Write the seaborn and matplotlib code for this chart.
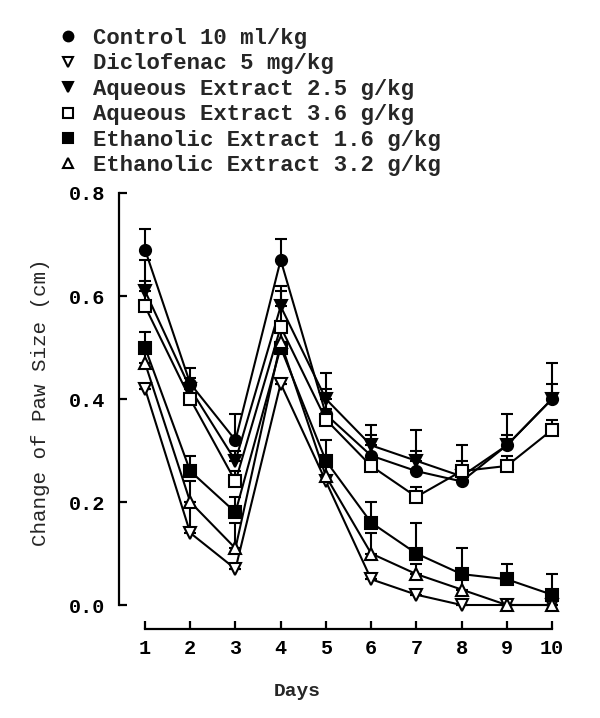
import numpy as np
import pandas as pd
import seaborn as sns
import matplotlib
matplotlib.use("Agg")
import matplotlib.pyplot as plt
from matplotlib.lines import Line2D

days = [1, 2, 3, 4, 5, 6, 7, 8, 9, 10]

control = [0.69, 0.43, 0.32, 0.67, 0.37, 0.29, 0.26, 0.24, 0.31, 0.40]
control_err = [0.04, 0.03, 0.05, 0.04, 0.08, 0.06, 0.08, 0.07, 0.06, 0.07]

diclofenac = [0.42, 0.14, 0.07, 0.43, 0.24, 0.05, 0.02, 0.00, 0.00, 0.00]
diclofenac_err = [0.00, 0.06, 0.00, 0.00, 0.00, 0.00, 0.00, 0.00, 0.00, 0.00]

aq25 = [0.61, 0.42, 0.28, 0.58, 0.40, 0.31, 0.28, 0.25, 0.31, 0.40]
aq25_err = [0.06, 0.02, 0.02, 0.04, 0.02, 0.02, 0.02, 0.02, 0.02, 0.03]

aq36 = [0.58, 0.40, 0.24, 0.54, 0.36, 0.27, 0.21, 0.26, 0.27, 0.34]
aq36_err = [0.05, 0.02, 0.02, 0.07, 0.02, 0.02, 0.02, 0.02, 0.02, 0.02]

eth16 = [0.50, 0.26, 0.18, 0.50, 0.28, 0.16, 0.10, 0.06, 0.05, 0.02]
eth16_err = [0.03, 0.03, 0.03, 0.03, 0.04, 0.04, 0.06, 0.05, 0.03, 0.04]

eth32 = [0.47, 0.20, 0.11, 0.51, 0.25, 0.10, 0.06, 0.03, 0.00, 0.00]
eth32_err = [0.02, 0.04, 0.05, 0.02, 0.02, 0.04, 0.02, 0.02, 0.00, 0.00]

labels = ["Control 10 ml/kg", "Diclofenac 5 mg/kg", "Aqueous Extract 2.5 g/kg",
          "Aqueous Extract 3.6 g/kg", "Ethanolic Extract 1.6 g/kg",
          "Ethanolic Extract 3.2 g/kg"]
y_ticks = [0.0, 0.2, 0.4, 0.6, 0.8]
y_ticklabels = ["0.0", "0.2", "0.4", "0.6", "0.8"]

series = [
    (labels[0], control, control_err, "o", "black"),
    (labels[1], diclofenac, diclofenac_err, "v", "white"),
    (labels[2], aq25, aq25_err, "v", "black"),
    (labels[3], aq36, aq36_err, "s", "white"),
    (labels[4], eth16, eth16_err, "s", "black"),
    (labels[5], eth32, eth32_err, "^", "white"),
]

sns.set_theme(style="ticks")
plt.rcParams["font.family"] = ["Liberation Mono", "DejaVu Sans"]

fig = plt.figure(figsize=(6, 7.18), dpi=100)
ax = fig.add_axes([119/600, 1-629/718, (565.6-119)/600, (629-193)/718])

handles = []
for name, vals, err, marker, face in series:
    ax.errorbar(days, vals, yerr=[np.zeros(len(err)), err], fmt="none",
                ecolor="black", elinewidth=1.5, capsize=4.5, capthick=1.5,
                zorder=2, clip_on=False)
    df = pd.DataFrame({"Days": days, "Change": vals})
    sns.lineplot(data=df, x="Days", y="Change", ax=ax, color="black",
                 linewidth=1.5, marker=marker, markersize=8,
                 markerfacecolor=face, markeredgecolor="black",
                 markeredgewidth=1.5, legend=False, errorbar=None,
                 zorder=3, clip_on=False)
    handles.append(Line2D([], [], linestyle="none", marker=marker, markersize=7,
                          markerfacecolor=face, markeredgecolor="black",
                          markeredgewidth=1.5))

ax.set_xlim(0.425, 10.3)
ax.set_ylim(-0.0466, 0.8)
for s in ["top", "right"]:
    ax.spines[s].set_visible(False)
ax.spines["left"].set_bounds(0, 0.8)
ax.spines["bottom"].set_bounds(1, 10)
for s in ["left", "bottom"]:
    ax.spines[s].set_linewidth(1.6)
    ax.spines[s].set_color("black")

ax.set_yticks(y_ticks)
ax.set_yticklabels(y_ticklabels)
ax.set_xticks(days)
ax.set_xticklabels([str(d) for d in days])
ax.tick_params(axis="both", direction="in", length=6, width=1.6, colors="black",
               labelsize=14.5)
ax.tick_params(axis="y", pad=10)
ax.tick_params(axis="x", pad=7)
for t in ax.get_xticklabels() + ax.get_yticklabels():
    t.set_fontweight("bold")

ax.set_xlabel("Days", fontsize=14, fontweight="bold")
ax.set_ylabel("Change of Paw Size (cm)", fontsize=15)
ax.xaxis.set_label_coords(0.399, -0.125)
ax.yaxis.set_label_coords(-0.155, 0.52)

fig.legend(handles, labels, loc="upper left", bbox_to_anchor=(0.099, 0.961),
           frameon=False, prop={"weight": "bold", "size": 16},
           handlelength=0.8, handletextpad=0.7, borderpad=0, borderaxespad=0,
           labelspacing=0.2)

fig.savefig("out.png", dpi=100)
